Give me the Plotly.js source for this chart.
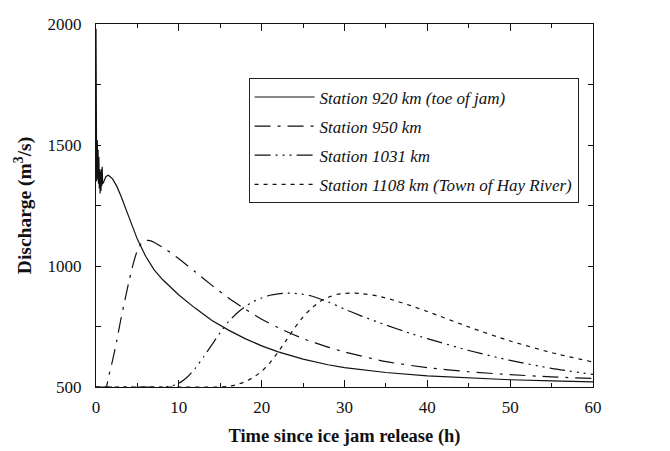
<!DOCTYPE html>
<html>
<head>
<meta charset="utf-8">
<script src="https://cdn.plot.ly/plotly-3.0.1.min.js"></script>
<style>html,body{margin:0;padding:0;background:#fff;}#chart{width:670px;height:451px;}</style>
</head>
<body>
<div id="chart"></div>
<script>
// Station 920 km (toe of jam)
const t920 = [0, 0.02, 0.05, 0.08, 0.1, 0.13, 0.16, 0.2, 0.25, 0.3, 0.35, 0.4, 0.45, 0.5, 0.55, 0.6, 0.65, 0.7, 0.75, 0.8, 0.9, 1.0, 1.2, 1.5, 2, 2.5, 3, 4, 5, 6, 7, 8, 10, 12, 14, 16, 18, 20, 22, 25, 28, 30, 35, 40, 45, 50, 55, 60];
const q920 = [1980, 1700, 1580, 1350, 1560, 1380, 1520, 1360, 1480, 1340, 1450, 1320, 1400, 1300, 1390, 1310, 1400, 1330, 1410, 1340, 1345, 1355, 1370, 1375, 1360, 1330, 1290, 1200, 1110, 1040, 985, 945, 880, 825, 775, 735, 700, 670, 645, 615, 592, 580, 560, 546, 537, 530, 525, 521];
// Station 950 km
const t950 = [0, 1.2, 1.5, 2, 2.5, 3, 3.5, 4, 4.5, 5, 5.5, 6, 6.5, 7, 8, 9, 10, 12, 14, 16, 18, 20, 22, 25, 28, 30, 35, 40, 45, 50, 55, 60];
const q950 = [500, 500, 540, 610, 690, 780, 860, 940, 1010, 1065, 1095, 1105, 1105, 1098, 1078, 1055, 1030, 975, 920, 868, 822, 780, 745, 700, 665, 645, 605, 580, 563, 551, 542, 535];
// Station 1031 km
const t1031 = [0, 8, 9, 10, 11, 12, 13, 14, 15, 16, 17, 18, 19, 20, 21, 22, 23, 24, 25, 26, 28, 30, 32, 35, 38, 40, 45, 50, 55, 60];
const q1031 = [500, 500, 503, 515, 540, 578, 625, 675, 725, 770, 805, 832, 853, 868, 879, 885, 888, 887, 883, 876, 852, 822, 794, 756, 721, 700, 651, 610, 577, 552];
// Station 1108 km (Town of Hay River)
const t1108 = [0, 15, 16, 17, 18, 19, 20, 21, 22, 23, 24, 25, 26, 27, 28, 29, 30, 31, 32, 34, 36, 38, 40, 45, 50, 55, 60];
const q1108 = [500, 500, 503, 510, 522, 540, 565, 600, 645, 695, 745, 790, 825, 852, 870, 882, 887, 888, 886, 876, 858, 836, 812, 748, 690, 642, 603];

const names = ['Station 920 km (toe of jam)', 'Station 950 km', 'Station 1031 km', 'Station 1108 km (Town of Hay River)'];

const FONT = 'Liberation Serif, Times New Roman, serif';

const traces = [
  {x: t920, y: q920, name: names[0], mode: 'lines', legendgroup: 'a',
   line: {color: '#111', width: 1.2, dash: 'solid'}},
  {x: t950, y: q950, name: names[1], mode: 'lines', legendgroup: 'b',
   line: {color: '#111', width: 1.2, dash: '16px,7px,3px,7px', shape: 'spline', smoothing: 0.6}},
  {x: t1031, y: q1031, name: names[2], mode: 'lines', legendgroup: 'c',
   line: {color: '#111', width: 1.2, dash: '16px,5px,2px,5px,2px,5px,2px,5px', shape: 'spline', smoothing: 0.6}},
  {x: t1108, y: q1108, name: names[3], mode: 'lines', legendgroup: 'd',
   line: {color: '#111', width: 1.2, dash: '4px,5px', shape: 'spline', smoothing: 0.6}}
];

const layout = {
  width: 670, height: 451,
  margin: {l: 96, r: 77, t: 24, b: 64},
  paper_bgcolor: '#fff', plot_bgcolor: '#fff',
  font: {family: FONT, color: '#111', size: 17},
  showlegend: true,
  legend: {
    x: 0.307, y: 0.85, xanchor: 'left', yanchor: 'top',
    bordercolor: '#222', borderwidth: 1, bgcolor: '#fff',
    font: {family: FONT, size: 17, style: 'italic'},
    tracegroupgap: 4, itemwidth: 60
  },
  xaxis: {
    range: [0, 60], tick0: 0, dtick: 10, ticks: 'inside', ticklen: 7, tickwidth: 1, tickcolor: '#111',
    minor: {dtick: 5, ticks: 'inside', ticklen: 4, tickwidth: 1, tickcolor: '#111'},
    showline: true, linecolor: '#111', linewidth: 1, mirror: 'allticks',
    showgrid: false, zeroline: false, ticklabelstandoff: 5,
    tickfont: {family: FONT, size: 17},
    title: {text: '<b>Time since ice jam release (h)</b>', font: {family: FONT, size: 18.5}, standoff: 12}
  },
  yaxis: {
    range: [500, 2000], tick0: 500, dtick: 500, ticks: 'inside', ticklen: 5, tickwidth: 1, tickcolor: '#111',
    minor: {dtick: 250, ticks: 'inside', ticklen: 5, tickwidth: 1, tickcolor: '#111'},
    showline: true, linecolor: '#111', linewidth: 1, mirror: 'allticks',
    showgrid: false, zeroline: false, ticklabelstandoff: 10,
    tickfont: {family: FONT, size: 17},
    title: {text: '<b>Discharge (m<sup>3</sup>/s)</b>', font: {family: FONT, size: 19.5}, standoff: 10}
  }
};

Plotly.newPlot('chart', traces, layout, {displayModeBar: false, staticPlot: true});
</script>
</body>
</html>
